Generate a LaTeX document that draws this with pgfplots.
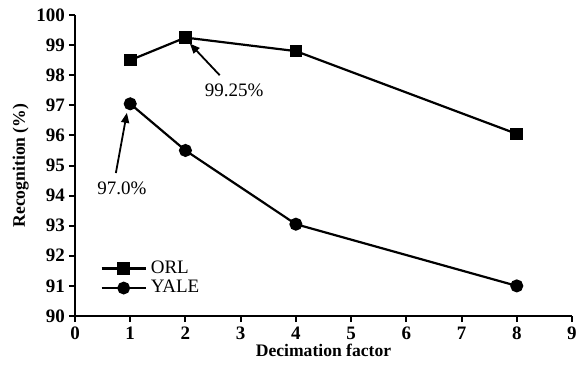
\documentclass[border=0pt]{standalone}
\usepackage{fontspec}
\setmainfont{Liberation Serif}
\usepackage{pgfplots}
\pgfplotsset{compat=1.18}
\usetikzlibrary{arrows.meta}
\begin{document}
\begin{tikzpicture}
\begin{axis}[
  scale only axis,
  width=248.5pt, height=150.5pt,
  xmin=0, xmax=9, ymin=90, ymax=100,
  xtick={0,1,...,9}, ytick={90,91,...,100},
  axis lines*=left,
  axis line style={line width=1pt},
  tick style={line width=1pt, black},
  tick align=outside,
  major tick length=3pt,
  /pgf/number format/assume math mode=true,
  ticklabel style={font=\fontsize{9.5}{10}\selectfont\bfseries},
  xticklabel style={yshift=1pt},
  yticklabel style={xshift=1.5pt},
  xlabel={Decimation factor},
  ylabel={Recognition (\%)},
  label style={font=\fontsize{8.8}{10}\selectfont\bfseries},
  xlabel style={yshift=5pt},
  ylabel style={yshift=-3pt},
  legend style={draw=none, fill=none, at={(axis cs:0.42,92.05)}, anchor=north west,
    font=\fontsize{9.5}{9.5}\selectfont, row sep=-2pt, inner sep=1pt},
  legend cell align=left,
  legend image code/.code={\draw[line width=1.1pt] (0cm,0cm) -- (22pt,0cm);
     \draw[#1, line width=1pt] plot coordinates {(11pt,0cm)};},
]
\addplot[black, line width=1.1pt, mark=square*, mark size=2.6pt] coordinates {
  (1,98.5) (2,99.25) (4,98.8) (8,96.05)
};
\addlegendentry{ORL}
\addplot[black, line width=1.1pt, mark=*, mark size=2.7pt] coordinates {
  (1,97.05) (2,95.5) (4,93.05) (8,91.0)
};
\addlegendentry{YALE}
\draw[line width=0.9pt, -{Triangle[length=5pt,width=4pt]}] (axis cs:2.62,98.0) -- (axis cs:2.08,99.05);
\node[font=\fontsize{9.5}{10}\selectfont] at (axis cs:2.88,97.5) {99.25\%};
\draw[line width=0.9pt, -{Triangle[length=5pt,width=4pt]}] (axis cs:0.74,94.75) -- (axis cs:0.94,96.75);
\node[font=\fontsize{9.5}{10}\selectfont] at (axis cs:0.85,94.25) {97.0\%};
\end{axis}
\pgfresetboundingbox
\path[use as bounding box] (-37.5pt,-27pt) rectangle (254.5pt,158pt);
\end{tikzpicture}
\end{document}
